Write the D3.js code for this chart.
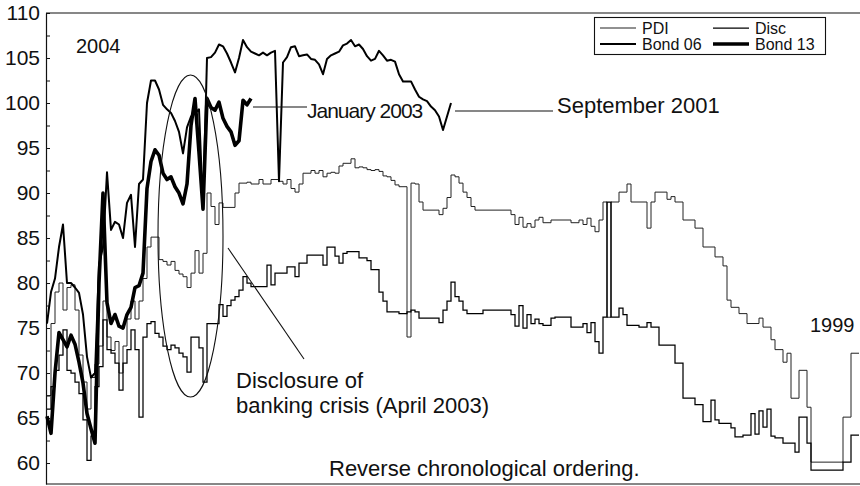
<!DOCTYPE html>
<html><head><meta charset="utf-8">
<script src="https://cdn.jsdelivr.net/npm/d3@7"></script>
<style>
body{margin:0;background:#fff}
svg text{font-family:"Liberation Sans",Arial,Helvetica,sans-serif;fill:#111}
</style>
</head><body>
<svg id="c" width="860" height="486"></svg>
<script>
// Reverse chronological ordering: index 0 = 2004 (left), last index = 1999 (right)
const seriesNames = ["PDI","Disc","Bond 06","Bond 13"];
const pdi = [
67.5,75.5,79.0,80.0,77.0,79.5,79.8,77.0,72.0,69.0,66.0,69.5,71.0,73.0,78.0,74.0,72.5,73.5,70.0,73.0,76.0,78.0,76.0,78.0,80.5,84.0,
85.1,85.1,82.6,82.4,82.0,82.4,81.4,81.0,80.7,79.5,81.1,83.6,81.1,83.3,90.0,88.5,86.5,88.9,88.4,88.4,88.4,90.0,91.1,91.1,91.2,
91.0,91.0,91.5,91.0,91.0,91.5,91.5,91.3,91.0,91.5,90.5,90.1,91.0,92.2,92.2,92.5,92.2,92.5,91.8,92.2,92.3,92.2,93.0,93.3,93.3,
93.8,92.8,92.9,92.8,92.6,92.5,92.6,92.4,91.9,91.8,91.4,90.9,90.7,90.7,74.0,91.1,91.0,89.0,88.1,88.1,88.1,88.1,87.6,88.3,89.5,
92.0,91.8,91.1,90.1,89.5,88.5,88.1,88.1,88.1,88.1,88.1,88.1,88.1,88.1,88.1,87.6,86.5,87.3,86.2,86.6,86.2,87.0,87.3,86.7,86.7,
87.0,87.0,87.0,87.0,87.0,86.7,86.7,87.0,86.5,87.2,86.3,85.7,87.0,89.0,76.2,89.0,89.0,90.1,90.1,91.0,89.0,89.0,89.0,89.0,86.1,
89.0,90.1,90.1,90.1,89.3,89.6,89.0,89.0,87.0,87.0,87.0,86.1,86.1,84.0,84.0,84.0,82.9,82.9,81.9,78.1,77.3,77.3,76.6,76.6,75.5,
75.5,75.5,76.1,75.1,75.1,73.7,72.6,72.6,71.2,72.2,67.2,67.2,70.3,70.3,66.2,
60.1,60.1,60.1,60.1,60.1,60.1,60.1,60.1,65.1,65.1,72.2,72.2,72.2
];
const disc = [
66.0,68.5,70.3,72.0,74.8,70.3,70.0,69.0,67.7,64.8,60.3,63.0,68.5,70.7,75.9,72.6,72.2,71.1,68.1,71.1,72.6,74.8,72.6,65.1,74.0,75.5,
75.7,74.4,74.0,73.0,72.6,73.1,72.8,72.2,71.8,70.1,74.0,74.0,72.8,69.0,75.5,75.5,75.5,77.6,76.3,77.5,78.1,78.5,79.2,80.7,80.0,
79.6,79.6,79.6,79.6,82.0,79.8,81.1,81.1,81.1,81.8,81.8,80.7,82.2,82.2,83.1,83.1,83.1,83.1,82.0,84.0,84.0,83.0,82.2,83.3,83.5,
83.5,83.5,82.8,82.8,82.5,81.5,81.5,79.0,78.0,76.8,76.8,76.8,76.6,76.6,76.8,77.0,76.8,76.1,76.1,76.1,76.1,76.1,75.6,77.0,78.0,
80.1,78.5,78.0,77.0,76.6,76.6,76.6,76.6,77.0,77.0,77.0,77.0,77.0,77.0,77.0,76.5,75.2,77.5,75.0,76.5,75.5,76.0,75.5,75.3,75.3,
76.1,76.2,76.2,76.2,76.2,75.1,75.1,75.1,75.5,74.5,75.6,73.5,72.2,76.2,89.0,76.2,76.2,77.2,76.5,75.3,75.3,75.3,75.1,75.1,75.6,
75.1,75.1,73.1,73.1,73.1,73.1,71.1,71.1,67.2,67.2,67.2,66.5,66.5,64.6,64.6,67.0,64.8,64.4,64.4,64.4,63.9,62.9,62.9,63.1,63.1,
65.5,63.2,65.8,64.0,66.0,63.0,62.8,62.8,62.2,62.2,62.2,61.2,65.1,65.1,62.2,
59.2,59.2,59.2,59.2,59.2,59.2,59.2,59.2,60.1,60.1,63.1,63.1,63.1
];
const bond06 = [
75.5,79.0,80.5,84.0,86.5,80.0,80.0,79.5,78.9,76.5,71.8,69.5,70.0,82.0,84.0,92.3,85.9,86.8,86.5,85.0,88.9,89.8,84.0,91.0,91.5,100.0,
102.5,102.5,101.5,99.8,99.3,98.9,98.0,96.8,94.4,97.3,98.5,98.9,99.3,88.2,105.0,105.1,105.6,106.5,106.3,105.5,104.5,103.4,105.0,107.0,106.2,
105.7,105.5,105.3,105.6,105.3,105.6,105.8,91.3,104.5,105.1,106.2,106.3,105.2,105.3,105.4,104.9,104.8,104.3,103.2,104.9,105.3,105.5,105.7,106.4,106.6,
107.0,106.3,106.5,106.0,105.2,104.7,104.9,105.8,105.3,104.7,104.8,104.6,103.2,102.4,102.4,102.4,101.5,100.7,100.4,100.2,99.6,99.2,98.5,97.0,98.5,
100.0
];
const bond13 = [
65.2,63.3,70.0,74.5,73.7,72.9,74.2,73.2,71.2,68.9,65.5,63.8,62.2,80.0,90.0,77.8,75.5,76.5,75.2,75.0,76.5,77.3,79.5,79.7,81.1,90.5,
93.5,94.8,94.2,92.2,91.5,91.8,90.7,90.0,88.8,91.0,97.5,100.5,94.5,88.2,100.5,99.5,99.2,100.1,98.3,97.4,96.8,95.3,95.8,100.3,99.8,
100.5
];
const yTicks = [60,62.5,65,67.5,70,72.5,75,77.5,80,82.5,85,87.5,90,92.5,95,97.5,100,102.5,105,107.5,110];
const yTickLabels = [60,65,70,75,80,85,90,95,100,105,110];

const svg = d3.select("#c");
const n = Math.max(pdi.length, disc.length) - 1;
const x = d3.scaleLinear().domain([0, n]).range([47, 859]);
const y = d3.scaleLinear().domain([57.67, 110]).range([484, 13]);

// frame (top and bottom rules)
svg.append("line").attr("x1",46).attr("x2",860).attr("y1",y(110)).attr("y2",y(110)).attr("stroke","#111").attr("stroke-width",1.2);
svg.append("line").attr("x1",46).attr("x2",860).attr("y1",484).attr("y2",484).attr("stroke","#111").attr("stroke-width",1.2);

// y axis
const ax = d3.axisLeft(y).tickValues(yTicks).tickSize(-4).tickSizeOuter(0).tickPadding(6)
  .tickFormat(d => yTickLabels.includes(d) ? d : "");
const g = svg.append("g").attr("transform","translate(46,0)").call(ax);
g.select(".domain").attr("stroke","#111").attr("stroke-width",1.2);
g.selectAll(".tick line").attr("stroke","#111").attr("stroke-width",1);
g.selectAll(".tick text").attr("font-size",21).attr("fill","#111")
  .style("font-family","'Liberation Sans',Arial,sans-serif");

const stepLine = d3.line().x((d,i)=>x(i)).y(d=>y(d)).curve(d3.curveStepAfter);
const linLine = d3.line().x((d,i)=>x(i)).y(d=>y(d));

const styles = {
  "PDI":{w:1.0,c:"#222"},
  "Disc":{w:1.25,c:"#000"},
  "Bond 06":{w:2.0,c:"#000"},
  "Bond 13":{w:3.6,c:"#000"}
};
svg.append("path").attr("d",stepLine(pdi)).attr("fill","none").attr("stroke",styles["PDI"].c).attr("stroke-width",styles["PDI"].w);
svg.append("path").attr("d",stepLine(disc)).attr("fill","none").attr("stroke",styles["Disc"].c).attr("stroke-width",styles["Disc"].w);
svg.append("path").attr("d",linLine(bond06)).attr("fill","none").attr("stroke",styles["Bond 06"].c).attr("stroke-width",styles["Bond 06"].w).attr("stroke-linejoin","round");
svg.append("path").attr("d",linLine(bond13)).attr("fill","none").attr("stroke",styles["Bond 13"].c).attr("stroke-width",styles["Bond 13"].w).attr("stroke-linejoin","round");

// annotations
svg.append("ellipse").attr("cx",190.5).attr("cy",236).attr("rx",32.5).attr("ry",161)
  .attr("fill","none").attr("stroke","#111").attr("stroke-width",1.1);
svg.append("line").attr("x1",228).attr("y1",248).attr("x2",304).attr("y2",359).attr("stroke","#111").attr("stroke-width",1.1);
svg.append("line").attr("x1",x(bond13.length-1)+2).attr("x2",307).attr("y1",107).attr("y2",107).attr("stroke","#111").attr("stroke-width",1.1);
svg.append("line").attr("x1",x(bond06.length-1)+4).attr("x2",553).attr("y1",111).attr("y2",111).attr("stroke","#111").attr("stroke-width",1.1);

const txt = (s,xx,yy,fs,extra) => {
  const t = svg.append("text").attr("x",xx).attr("y",yy).attr("font-size",fs).text(s);
  if (extra) extra(t);
  return t;
};
txt("2004",76,53,20);
txt("1999",810,332,20);
txt("January 2003",307,118,21,t=>t.attr("letter-spacing",-1));
txt("September 2001",557,113,22);
txt("Disclosure of",236,388,22);
txt("banking crisis (April 2003)",236,413,22);
txt("Reverse chronological ordering.",329,476,22);

// legend
const lg = svg.append("g");
lg.append("rect").attr("x",594.5).attr("y",17.5).attr("width",231).attr("height",37).attr("fill","#fff").attr("stroke","#111").attr("stroke-width",1.1);
const legPos = [[600,28],[713,28],[600,44],[713,44]];
seriesNames.forEach((nm,k)=>{
  const [lx,ly] = legPos[k];
  lg.append("line").attr("x1",lx).attr("x2",lx+36).attr("y1",ly).attr("y2",ly)
    .attr("stroke",styles[nm].c).attr("stroke-width",styles[nm].w);
  lg.append("text").attr("x",lx+42).attr("y",ly+5.5).attr("font-size",16).text(nm);
});
</script>
</body></html>
